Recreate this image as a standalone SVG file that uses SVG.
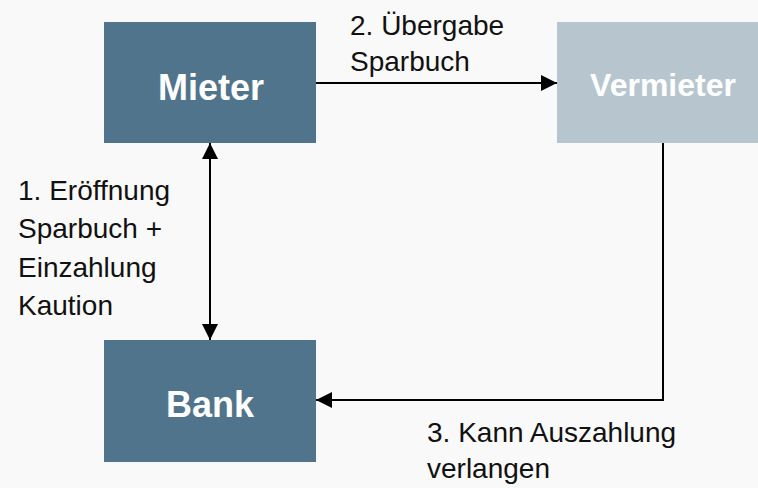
<svg xmlns="http://www.w3.org/2000/svg" width="758" height="488" viewBox="0 0 758 488">
<defs>
<style>
.box{fill:#50748b}
.light{fill:#b7c5cf}
.nt{font-family:"Liberation Sans",Arial,sans-serif;font-weight:bold;fill:#ffffff;text-anchor:middle}
.lbl{font-family:"Liberation Sans",Arial,sans-serif;font-size:28px;fill:#111111}
.con{stroke:#000000;stroke-width:2;fill:none}
</style>
<marker id="ah" markerUnits="userSpaceOnUse" markerWidth="18" markerHeight="16" refX="16" refY="8" orient="auto-start-reverse" viewBox="0 0 18 16">
<path d="M0,0 L16,8 L0,16 Z" fill="#000000"/>
</marker>
</defs>
<rect x="0" y="0" width="758" height="488" fill="#f9f9f9"/>
<g id="connectors">
<line class="con" x1="210" y1="143" x2="210" y2="340" marker-start="url(#ah)" marker-end="url(#ah)"/>
<line class="con" x1="316" y1="83" x2="557" y2="83" marker-end="url(#ah)"/>
<polyline class="con" points="663,143 663,400 316,400" marker-end="url(#ah)"/>
</g>
<g id="mieter">
<rect class="box" x="104" y="22" width="212" height="121"/>
<text class="nt" x="211" y="100" font-size="36">Mieter</text>
</g>
<g id="vermieter">
<rect class="light" x="557" y="22" width="201" height="121"/>
<text class="nt" x="663" y="96" font-size="32">Vermieter</text>
</g>
<g id="bank">
<rect class="box" x="104" y="340" width="212" height="122"/>
<text class="nt" x="210" y="417" font-size="36">Bank</text>
</g>
<g id="labels">
<text class="lbl" x="350" y="35">2. Übergabe</text>
<text class="lbl" x="350" y="71">Sparbuch</text>
<text class="lbl" x="18" y="200">1. Eröffnung</text>
<text class="lbl" x="18" y="238">Sparbuch +</text>
<text class="lbl" x="18" y="277">Einzahlung</text>
<text class="lbl" x="18" y="315">Kaution</text>
<text class="lbl" x="427" y="442">3. Kann Auszahlung</text>
<text class="lbl" x="427" y="478">verlangen</text>
</g>
</svg>
